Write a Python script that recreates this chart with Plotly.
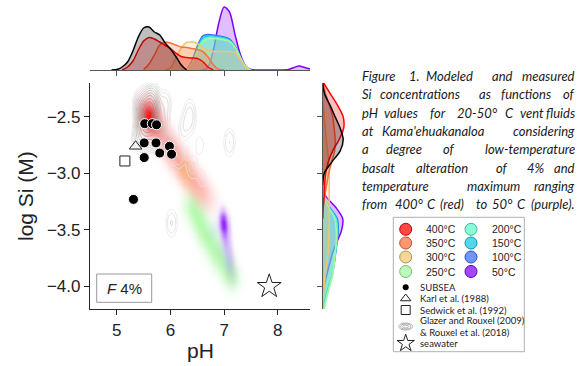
import numpy as np
import plotly.graph_objects as go

W, H = 582, 366

# ---------------- data ----------------
TEMPS = ["400°C", "350°C", "300°C", "250°C", "200°C", "150°C", "100°C", "50°C"]
RGB = [(255, 0, 0), (255, 111, 57), (237, 199, 111), (164, 249, 159),
       (91, 249, 199), (18, 199, 230), (55, 111, 249), (128, 0, 255)]

SUBSEA_PH = [5.52, 5.66, 5.74, 5.51, 5.73, 5.98, 5.80, 6.02, 5.51, 5.31]
SUBSEA_SI = [-2.56, -2.56, -2.57, -2.73, -2.73, -2.76, -2.82, -2.83, -2.86, -3.23]
KARL_PH, KARL_SI = [5.35], [-2.76]
SEDWICK_PH, SEDWICK_SI = [5.15], [-2.89]
SEAWATER_PH, SEAWATER_SI = [7.84], [-4.0]

# model clouds (representative model points, weights)
RED_PH = [5.55, 5.58, 5.60, 5.63, 5.68, 5.76, 5.86, 5.96, 6.06, 6.16, 6.26, 6.36, 6.46, 6.56, 6.66, 6.74]
RED_SI = [-2.44, -2.47, -2.50, -2.53, -2.57, -2.62, -2.68, -2.75, -2.82, -2.89, -2.96, -3.02, -3.08, -3.14, -3.20, -3.26]
RED_W = [1.1, 1.4, 1.5, 1.3, 0.95, 0.7, 0.6, 0.55, 0.52, 0.5, 0.47, 0.44, 0.4, 0.35, 0.28, 0.18]
ORA_PH = [5.95, 6.10, 6.25, 6.40, 6.55]
ORA_SI = [-2.75, -2.85, -2.97, -3.08, -3.18]
ORA_W = [0.6, 0.8, 1.0, 0.8, 0.6]
TAN_PH = [6.22, 6.28, 6.34, 6.60, 6.85, 7.12]
TAN_SI = [-2.93, -2.98, -3.05, -3.55, -3.72, -3.90]
TAN_W = [0.8, 1.0, 0.8, 0.2, 0.25, 0.4]
GRN_PH = [6.38, 6.47, 6.56, 6.65, 6.75, 6.85, 6.95, 7.05, 7.15]
GRN_SI = [-3.28, -3.36, -3.45, -3.54, -3.62, -3.70, -3.78, -3.86, -3.93]
GRN_W = [0.9, 1.0, 1.0, 1.0, 0.95, 0.9, 0.85, 0.8, 0.7]
BLU_PH = [6.80, 6.95, 7.05, 7.15]
BLU_SI = [-3.50, -3.65, -3.78, -3.90]
BLU_W = [1.0, 1.0, 1.0, 1.0]
PUR_PH = [6.97, 6.99, 7.01, 7.04, 7.08, 7.12]
PUR_SI = [-3.40, -3.45, -3.50, -3.60, -3.70, -3.80]
PUR_W = [1.0, 1.0, 0.9, 0.5, 0.35, 0.25]

# Glazer & Rouxel data (density contours)
GLZ_PH = [5.59, 5.57, 5.62, 5.50, 5.70, 5.65, 5.45, 5.85, 5.95, 6.15, 6.40, 6.60, 5.90, 6.25, 6.55, 5.40,
          6.36, 6.36, 7.10, 7.10, 6.02, 6.02]
GLZ_SI = [-2.48, -2.52, -2.45, -2.62, -2.65, -2.35, -2.40, -2.55, -2.75, -2.85, -2.95, -3.05, -2.38, -2.60, -2.75, -2.70,
          -2.44, -2.54, -2.68, -2.77, -3.40, -3.48]
GLZ_W = [1.0, 0.8, 0.7, 0.3, 0.3, 0.2, 0.15, 0.08, 0.08, 0.05, 0.04, 0.03, 0.06, 0.04, 0.03, 0.06,
         0.04, 0.04, 0.03, 0.03, 0.03, 0.03]

# top marginal densities (pH)
TOP = {
    "data": ([4.9, 5.0, 5.1, 5.2, 5.3, 5.4, 5.5, 5.6, 5.7, 5.8, 5.9, 6.0, 6.1, 6.2, 6.3],
             [0, 0.5, 3, 8, 19, 33, 42, 43, 38, 35, 27, 21, 13.5, 5, 0]),
    "400°C": ([5.1, 5.2, 5.3, 5.4, 5.5, 5.6, 5.7, 5.8, 5.9, 6.0, 6.1, 6.2, 6.3, 6.4, 6.5, 6.6, 6.7, 6.8],
              [0, 3, 9, 20, 29, 32.5, 31, 28, 24.5, 21.5, 17, 13.5, 12.5, 12, 11.5, 8.5, 3, 0]),
    "350°C": ([5.5, 5.6, 5.7, 5.8, 5.9, 6.0, 6.1, 6.2, 6.3, 6.4, 6.5, 6.6, 6.7, 6.8, 6.9, 7.0],
              [0.5, 6, 15, 25, 28, 27, 25, 23, 22.5, 21.5, 20.5, 18.5, 13, 5, 0.5, 0]),
    "300°C": ([5.9, 6.0, 6.1, 6.2, 6.3, 6.4, 6.5, 6.6, 6.7, 6.8, 6.9, 7.0, 7.1, 7.2, 7.3, 7.4, 7.5],
              [0, 2, 12, 22, 27.5, 28, 26.5, 22, 19.5, 18.5, 18.5, 18.5, 18.3, 17.5, 11, 2.5, 0]),
    "250°C": ([6.2, 6.3, 6.4, 6.5, 6.6, 6.7, 6.8, 6.9, 7.0, 7.1, 7.2, 7.3, 7.4, 7.5],
              [0, 0.5, 7, 18, 28, 31, 31.5, 31, 30, 28.5, 23, 13, 3.5, 0]),
    "200°C": ([6.3, 6.4, 6.5, 6.6, 6.7, 6.8, 6.9, 7.0, 7.1, 7.2, 7.3, 7.4, 7.5],
              [0, 6, 19, 30, 32.5, 32.5, 32, 31, 29, 23, 12, 3, 0]),
    "150°C": ([6.3, 6.4, 6.5, 6.6, 6.7, 6.8, 6.9, 7.0, 7.1, 7.2, 7.3, 7.4, 7.5],
              [0, 7, 21, 32, 34, 34, 33, 32, 30, 24, 13, 3, 0]),
    "100°C": ([6.3, 6.4, 6.5, 6.6, 6.7, 6.8, 6.9, 7.0, 7.1, 7.2, 7.3, 7.4, 7.5],
              [0, 9, 24, 34, 35.5, 35, 34, 33, 31, 24, 13, 3, 0]),
    "50°C": ([6.6, 6.7, 6.8, 6.9, 7.0, 7.1, 7.2, 7.3, 7.4, 7.5, 7.6, 7.8, 8.0, 8.2, 8.3, 8.4, 8.5, 8.6],
             [0, 3, 20, 47, 63, 58, 36, 16, 4, 0.5, 0, 0, 0, 0.5, 2.5, 4, 2.5, 1]),
}

# right marginal densities (log Si)
RIGHT = {
    "data": ([-2.2, -2.3, -2.4, -2.5, -2.6, -2.7, -2.8, -2.9, -3.0, -3.1],
             [0, 2, 7.5, 12.5, 17.5, 20.5, 17.5, 9, 1.5, 0]),
    "400°C": ([-2.2, -2.3, -2.4, -2.5, -2.6, -2.7, -2.8, -2.9, -3.0, -3.1, -3.2, -3.3, -3.4],
              [1, 8, 15, 20.5, 21, 16.5, 10, 5.5, 3, 2, 1.5, 0.5, 0]),
    "350°C": ([-2.2, -2.3, -2.4, -2.5, -2.6, -2.7, -2.8, -2.9, -3.0, -3.1, -3.2, -3.3, -3.4],
              [0.5, 3, 7, 10, 11.5, 12.5, 12, 9, 6, 4, 2, 0.5, 0]),
    "300°C": ([-2.3, -2.4, -2.5, -2.6, -2.7, -2.8, -2.9, -3.0, -3.1, -3.2, -3.3, -3.4, -3.5, -3.6, -3.7, -3.8, -3.9, -4.0, -4.1, -4.2],
              [0, 0.5, 1.5, 2.5, 3.5, 5, 6, 6.5, 6.5, 6.5, 6.5, 6.5, 6.3, 6, 5.5, 4, 2.5, 1.5, 0.5, 0]),
    "250°C": ([-3.1, -3.2, -3.3, -3.4, -3.5, -3.6, -3.7, -3.8, -3.9, -4.0, -4.1, -4.2],
              [0, 1, 6, 12, 13.5, 13.5, 12.5, 11.5, 10, 7, 4, 1.5]),
    "200°C": ([-3.1, -3.2, -3.3, -3.4, -3.5, -3.6, -3.7, -3.8, -3.9, -4.0, -4.1, -4.2],
              [0, 0.5, 6, 13, 14.5, 14, 12.5, 11, 9.5, 6.5, 3.5, 1.2]),
    "150°C": ([-3.1, -3.2, -3.3, -3.4, -3.5, -3.6, -3.7, -3.8, -3.9, -4.0, -4.1, -4.2],
              [0, 0.5, 6.5, 14, 15, 14.3, 12.8, 11.3, 9.5, 6.2, 3.2, 1]),
    "100°C": ([-3.1, -3.2, -3.3, -3.4, -3.5, -3.6, -3.7, -3.8, -3.9, -4.0, -4.1, -4.2],
              [0, 0.5, 7, 14.5, 15.5, 14.5, 13, 11.5, 9.5, 6, 3, 1]),
    "50°C": ([-3.1, -3.2, -3.3, -3.4, -3.5, -3.6, -3.7, -3.8, -3.9, -4.0, -4.1, -4.2],
             [0.5, 3, 13, 20, 19, 14.5, 10, 7, 4, 1.5, 0.5, 0]),
}

CAPTION = [
    ["Figure", "1.", "Modeled", "and", "measured"],
    ["Si", "concentrations", "as", "functions", "of"],
    ["pH", "values", "for", "20-50°", "C", "vent", "fluids"],
    ["at", "Kama'ehuakanaloa", "considering"],
    ["a", "degree", "of", "low-temperature"],
    ["basalt", "alteration", "of", "4%", "and"],
    ["temperature", "maximum", "ranging"],
    ["from", "400°", "C", "(red)", "to", "50°", "C", "(purple)."],
]
LEGEND_SYMBOLS = ["SUBSEA", "Karl et al. (1988)", "Sedwick et al. (1992)",
                  "Glazer and Rouxel (2009)", "& Rouxel et al. (2018)", "seawater"]

# ---------------- layout helpers ----------------
def fx(p):
    return p / W


def fy(p):
    return 1 - p / H


X0, X1, Y0, Y1 = 90, 310, 83, 309          # main axes box (px)
TOP_Y0, TOP_Y1 = 4, 70                      # top marginal
RX0, RX1 = 322.7, 357                       # right marginal

FONT = "Liberation Sans, Arial, sans-serif"
CAPFONT = "Lato, Noto Sans, sans-serif"
AX = "#262626"


def rgba(c, a):
    return f"rgba({c[0]},{c[1]},{c[2]},{a:.3f})"


fig = go.Figure()

# ---------------- main clouds ----------------
gx = np.linspace(4.5, 8.6, 206)
gy = np.linspace(-4.2, -2.2, 201)
GX, GY = np.meshgrid(gx, gy)


def kde(ph, si, w, sx, sy):
    Z = np.zeros_like(GX)
    for a, b, c in zip(ph, si, w):
        Z += c * np.exp(-0.5 * (((GX - a) / sx) ** 2 + ((GY - b) / sy) ** 2))
    return Z / Z.max()


stops = [0, 0.05, 0.15, 0.3, 0.5, 0.7, 0.85, 1]


def add_cloud(ph, si, w, sx, sy, c, amax, gam):
    Z = np.round(kde(ph, si, w, sx, sy), 3)
    cs = [[s, rgba(c, 0 if s == 0 else amax * (s ** gam))] for s in stops]
    fig.add_trace(go.Heatmap(x=gx, y=gy, z=Z, colorscale=cs, zmin=0, zmax=1,
                             zsmooth="best", showscale=False, hoverinfo="skip",
                             xaxis="x", yaxis="y"))


add_cloud(GRN_PH, GRN_SI, GRN_W, 0.10, 0.07, RGB[3], 0.8, 0.8)
add_cloud(BLU_PH, BLU_SI, BLU_W, 0.07, 0.07, RGB[6], 0.10, 1.0)
add_cloud(ORA_PH, ORA_SI, ORA_W, 0.10, 0.08, RGB[1], 0.22, 1.0)

# gray contour lines (Glazer & Rouxel): iso-levels on log density
Zg = np.log10(np.maximum(kde(GLZ_PH, GLZ_SI, GLZ_W, 0.08, 0.08), 1e-6))
fig.add_trace(go.Contour(x=gx, y=gy, z=np.round(Zg, 4), showscale=False,
                         contours=dict(coloring="lines", start=-2.05, end=-0.15, size=0.19),
                         colorscale=[[0, "#e6e6e6"], [1, "#808080"]], zmin=-2.05, zmax=-0.15,
                         line=dict(width=0.8, smoothing=1), hoverinfo="skip", xaxis="x", yaxis="y"))

add_cloud(RED_PH, RED_SI, RED_W, 0.11, 0.075, RGB[0], 0.92, 0.75)
add_cloud(TAN_PH, TAN_SI, TAN_W, 0.07, 0.06, RGB[2], 0.45, 1.0)
add_cloud(PUR_PH, PUR_SI, PUR_W, 0.055, 0.06, RGB[7], 0.85, 0.9)

# points
fig.add_trace(go.Scatter(x=SUBSEA_PH, y=SUBSEA_SI, mode="markers",
                         marker=dict(size=10, color="black", line=dict(color="white", width=1)),
                         xaxis="x", yaxis="y"))
fig.add_trace(go.Scatter(x=KARL_PH, y=KARL_SI, mode="markers",
                         marker=dict(symbol="triangle-up-open", size=11, color="#222", line=dict(width=1)),
                         xaxis="x", yaxis="y"))
fig.add_trace(go.Scatter(x=SEDWICK_PH, y=SEDWICK_SI, mode="markers",
                         marker=dict(symbol="square-open", size=10, color="#222", line=dict(width=1)),
                         xaxis="x", yaxis="y"))
fig.add_trace(go.Scatter(x=SEAWATER_PH, y=SEAWATER_SI, mode="markers",
                         marker=dict(symbol="star-open", size=18, color="#222", line=dict(width=1)),
                         xaxis="x", yaxis="y"))

# ---------------- marginals ----------------
order = TEMPS[::-1] + ["data"]
for k in order:
    if k == "data":
        lc, fc = "black", "rgba(0,0,0,0.25)"
    else:
        c = RGB[TEMPS.index(k)]
        lc, fc = rgba(c, 1), rgba(c, 0.25)
    xs, ds = TOP[k]
    fig.add_trace(go.Scatter(x=xs, y=ds, mode="lines", line=dict(color=lc, width=1.5, shape="spline", smoothing=0.8),
                             fill="tozeroy", fillcolor=fc, xaxis="x2", yaxis="y2", hoverinfo="skip"))
    ys, ds = RIGHT[k]
    fig.add_trace(go.Scatter(x=ds, y=ys, mode="lines", line=dict(color=lc, width=1.5, shape="spline", smoothing=0.8),
                             fill="tozerox", fillcolor=fc, xaxis="x3", yaxis="y3", hoverinfo="skip"))

# ---------------- legend (overlay pixel axis) ----------------
LCOL = [405.7, 471]
LROW = [229.3, 243, 257, 271.5]
for i, t in enumerate(TEMPS):
    col, row = divmod(i, 4)
    c = RGB[i]
    fig.add_trace(go.Scatter(x=[LCOL[col]], y=[LROW[row]], mode="markers",
                             marker=dict(size=12, color=rgba(c, 0.72),
                                         line=dict(color=rgba(tuple(int(v * 0.75) for v in c), 1), width=1)),
                             xaxis="x4", yaxis="y4", hoverinfo="skip"))
SYM_Y = [287.3, 298.5, 310, 326.5, 343.3]
fig.add_trace(go.Scatter(x=[405.7], y=[SYM_Y[0]], mode="markers", marker=dict(size=6, color="black"),
                         xaxis="x4", yaxis="y4"))
fig.add_trace(go.Scatter(x=[405.7], y=[SYM_Y[1]], mode="markers",
                         marker=dict(symbol="triangle-up-open", size=9, color="#222", line=dict(width=1)),
                         xaxis="x4", yaxis="y4"))
fig.add_trace(go.Scatter(x=[405.7], y=[SYM_Y[2]], mode="markers",
                         marker=dict(symbol="square-open", size=9, color="#222", line=dict(width=1)),
                         xaxis="x4", yaxis="y4"))
fig.add_trace(go.Scatter(x=[405.7], y=[SYM_Y[4]], mode="markers",
                         marker=dict(symbol="star-open", size=13, color="#222", line=dict(width=1)),
                         xaxis="x4", yaxis="y4"))

shapes = []
shapes.append(dict(type="rect", xref="paper", yref="paper", x0=fx(393.3), x1=fx(524.3),
                   y0=fy(351.7), y1=fy(217.3), line=dict(color="#b0b0b0", width=1)))
# glazer contour icon
for a, b in [(7, 3.5), (5, 2.5), (3, 1.5)]:
    shapes.append(dict(type="circle", xref="x4", yref="y4", x0=405.7 - a, x1=405.7 + a,
                       y0=SYM_Y[3] - b, y1=SYM_Y[3] + b, line=dict(color="#999", width=0.8)))
# F 4% box
shapes.append(dict(type="rect", xref="paper", yref="paper", x0=fx(96.7), x1=fx(151.7),
                   y0=fy(302.3), y1=fy(274), line=dict(color="#999", width=1), fillcolor="white"))

ann = []
LTX = [424.3, 490]
for i, t in enumerate(TEMPS):
    col, row = divmod(i, 4)
    ann.append(dict(x=fx(LTX[col]), y=fy(LROW[row]), xref="paper", yref="paper", text=t,
                    showarrow=False, xanchor="left", yanchor="middle",
                    font=dict(family=FONT, size=10.5, color="#222")))
SYM_TEXT_Y = [287.3, 298.5, 310, 320.7, 332.3, 343.3]
for t, yy in zip(LEGEND_SYMBOLS, SYM_TEXT_Y):
    ann.append(dict(x=fx(418.3), y=fy(yy), xref="paper", yref="paper", text=t,
                    showarrow=False, xanchor="left", yanchor="middle",
                    font=dict(family=CAPFONT, size=9.5, color="#222")))

# caption words
WORD_X = [
    [360, 406.7, 424, 490, 575],
    [360, 378.3, 476.7, 499, 575],
    [360, 381.7, 428.3, 455, 503.3, 518.3, 575],
    [360, 380, 575],
    [360, 384.3, 440.7, 575],
    [360, 414.3, 494.3, 525, 575],
    [360, 465, 575],
    [360, 393, 425, 438, 474, 490, 515, 575],
]
LINE_Y = [75.7, 94.3, 112.7, 131, 149.3, 167.7, 186, 204.3]
for words, xs, yy in zip(CAPTION, WORD_X, LINE_Y):
    for j, (wd, xx) in enumerate(zip(words, xs)):
        last = j == len(words) - 1
        ann.append(dict(x=fx(xx), y=fy(yy), xref="paper", yref="paper", text=f"<i>{wd}</i>",
                        showarrow=False, xanchor="right" if last else "left", yanchor="middle",
                        xshift=2 if last else 0,
                        font=dict(family=CAPFONT, size=13, color="#1a1a1a")))

ann.append(dict(x=fx(124.2), y=fy(288.5), xref="paper", yref="paper", text="<i>F</i> 4%",
                showarrow=False, xanchor="center", yanchor="middle",
                font=dict(family=FONT, size=15, color="#222")))
ann.append(dict(x=fx(200), y=fy(350), xref="paper", yref="paper", text="pH",
                showarrow=False, xanchor="center", yanchor="middle",
                font=dict(family=FONT, size=21, color="#222")))
ann.append(dict(x=fx(25), y=fy(196), xref="paper", yref="paper", text="log Si (M)", textangle=-90,
                showarrow=False, xanchor="center", yanchor="middle",
                font=dict(family=FONT, size=21, color="#222")))

axis_common = dict(showgrid=False, zeroline=False, showline=True, linecolor=AX, linewidth=1.2,
                   ticks="outside", ticklen=5, tickwidth=1.2, tickcolor=AX)

fig.update_layout(
    width=W, height=H, margin=dict(l=0, r=0, t=0, b=0),
    paper_bgcolor="white", plot_bgcolor="rgba(0,0,0,0)", showlegend=False,
    xaxis=dict(domain=[fx(X0), fx(X1)], range=[4.5, 8.6], tickvals=[5, 6, 7, 8],
               tickfont=dict(family=FONT, size=17, color="#222"), anchor="y", **axis_common),
    yaxis=dict(domain=[fy(Y1), fy(Y0)], range=[-4.2, -2.2], tickvals=[-2.5, -3.0, -3.5, -4.0],
               tickformat=".1f", tickfont=dict(family=FONT, size=17, color="#222"), anchor="x",
               **axis_common),
    xaxis2=dict(domain=[fx(X0), fx(X1)], matches="x", anchor="y2", showticklabels=False,
                tickvals=[5, 6, 7, 8], **{**axis_common, "linecolor": "#555", "tickcolor": "#555"}),
    yaxis2=dict(domain=[fy(TOP_Y1), fy(TOP_Y0)], range=[0, 66], visible=False, anchor="x2"),
    xaxis3=dict(domain=[fx(RX0), fx(RX1)], range=[0, 34.3], visible=False, anchor="y3"),
    yaxis3=dict(domain=[fy(Y1), fy(Y0)], matches="y", anchor="x3", showticklabels=False,
                tickvals=[-2.5, -3.0, -3.5, -4.0], **{**axis_common, "linecolor": "#555", "tickcolor": "#555"}),
    xaxis4=dict(domain=[0, 1], range=[0, W], visible=False, anchor="y4", fixedrange=True),
    yaxis4=dict(domain=[0, 1], range=[H, 0], visible=False, anchor="x4", fixedrange=True),
    shapes=shapes, annotations=ann,
)

fig.write_html("out.html", config={"displayModeBar": False},
               post_script="document.body.style.margin='0px';document.body.style.padding='0px';")
